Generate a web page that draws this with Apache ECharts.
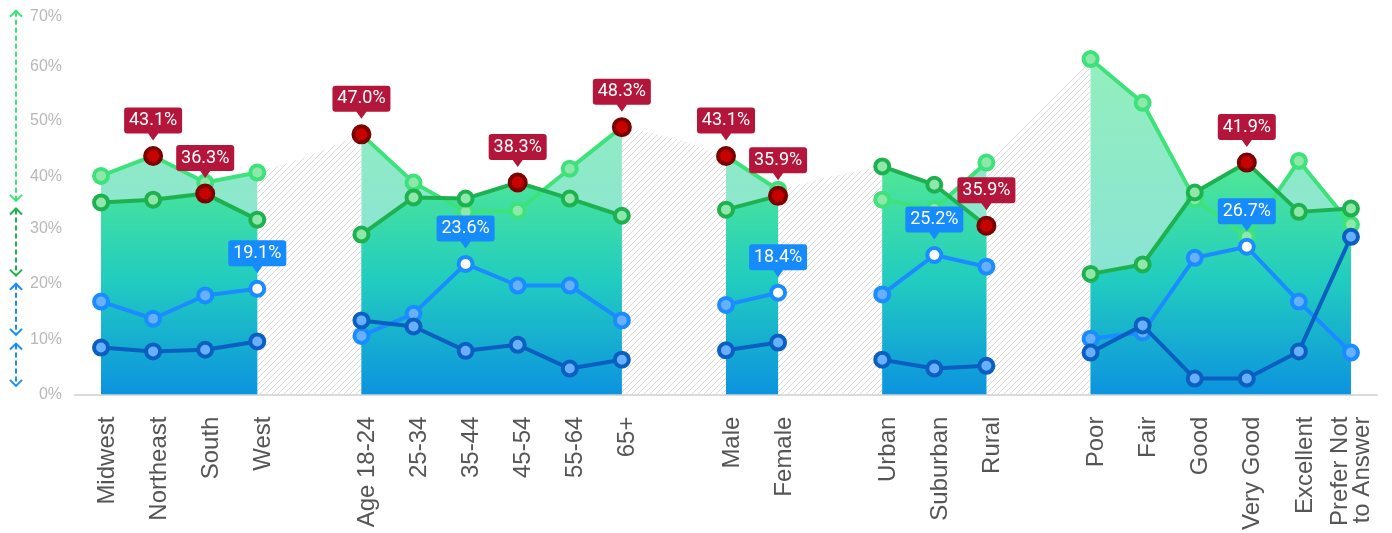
<!DOCTYPE html>
<html>
<head>
<meta charset="utf-8">
<script src="https://cdn.jsdelivr.net/npm/echarts@6/dist/echarts.min.js"></script>
<style>html,body{margin:0;padding:0;background:#fff;}#c{width:1392px;height:533px;}</style>
</head>
<body>
<div id="c"></div>
<script>
// ---- data ----
var categories = ['Midwest','Northeast','South','West','',
  'Age 18-24','25-34','35-44','45-54','55-64','65+','',
  'Male','Female','',
  'Urban','Suburban','Rural','',
  'Poor','Fair','Good','Very Good','Excellent','Prefer Not\nto Answer'];
var lightGreen = [39.5,43.1,38.3,40.1,null, 47.0,38.3,33.0,33.2,40.8,48.3,null, 43.1,37.0,null, 35.2,33.5,41.9,null, 60.6,52.7,35.3,28.5,42.2,30.7];
var darkGreen  = [34.7,35.2,36.3,31.6,null, 28.9,35.6,35.4,38.3,35.4,32.3,null, 33.4,35.9,null, 41.2,37.9,30.5,null, 21.8,23.5,36.5,41.9,33.0,33.6];
var blue       = [16.8,13.7,17.9,19.1,null, 10.6,14.6,23.6,19.7,19.7,13.4,null, 16.2,18.4,null, 18.1,25.2,23.1,null, 10.1,11.2,24.7,26.7,16.8,7.6];
var darkBlue   = [8.5,7.8,8.1,9.6,null, 13.4,12.3,7.9,9.0,4.7,6.3,null, 8.0,9.4,null, 6.3,4.7,5.2,null, 7.6,12.5,2.9,2.9,7.8,28.5];
// hatched band between groups (group edges + gap values)
var hatch      = [null,null,null,40.1,43.1, 47.0,null,null,null,null,48.3,46.4, 43.1,37.0,39.4, 41.2,null,41.9,51.3, 60.6,null,null,null,null,null];
// highlighted points
var lgHighlightIdx = [1,5,10,12];
var lgHighlightText = ['43.1%','47.0%','48.3%','43.1%'];
var dgHighlightIdx = [2,8,13,17,22];
var dgHighlightText = ['36.3%','38.3%','35.9%','35.9%','41.9%'];
var blueHighlightIdx = [3,7,13,16,22];
var blueHighlightText = ['19.1%','23.6%','18.4%','25.2%','26.7%'];
// y tick label vertical nudges (px, downward) as drawn in the reference
var yTickNudge = {70: 10, 60: 4, 50: 3, 40: 3};
// left range arrows (in %)
var arrowRanges = [[69.5,34.8],[33.8,21.3],[20.2,10.6],[9.4,1.4]];
var arrowColors = ['#3ee27b','#1eb150','#1a8cff','#1a8cff'];

// ---- styles ----
var C_LG = '#3ee27b', C_DG = '#1eb150', C_B = '#1a8cff', C_DB = '#0a5fc0';
var F_G = '#8ee8aa', F_B = '#66b0ff';

var pc = document.createElement('canvas');
pc.width = 6; pc.height = 6;
var px = pc.getContext('2d');
px.strokeStyle = '#dadada'; px.lineWidth = 1;
px.beginPath();
px.moveTo(0,6); px.lineTo(6,0);
px.moveTo(-1,1); px.lineTo(1,-1);
px.moveTo(5,7); px.lineTo(7,5);
px.stroke();

function markData(arr, idxs, hl) {
  return arr.map(function(v,i){
    if (idxs.indexOf(i) >= 0 && v != null) {
      return {value: v, symbolSize: hl === 'red' ? 16 : 14,
        itemStyle: hl === 'red' ? {color:'#c80000', borderColor:'#7d0000', borderWidth:4}
                                : {color:'#ffffff', borderColor:C_B, borderWidth:4}};
    }
    return v;
  });
}
var calloutPath = 'path://M3,0 H55 Q58,0 58,3 V23 Q58,26 55,26 H34 L29,33 L24,26 H3 Q0,26 0,23 V3 Q0,0 3,0 Z';
var mpData = [];
function addCallouts(idxs, texts, arr, color) {
  idxs.forEach(function(ix, k){
    mpData.push({coord:[ix, arr[ix]], value: texts[k], itemStyle:{color: color}});
  });
}
addCallouts(lgHighlightIdx, lgHighlightText, lightGreen, '#b3163a');
addCallouts(dgHighlightIdx, dgHighlightText, darkGreen, '#b3163a');
addCallouts(blueHighlightIdx, blueHighlightText, blue, '#168bfb');

function lineSeries(name, data, color, fill, z) {
  return {
    name: name, type: 'line', data: data, z: z,
    connectNulls: false, symbol: 'circle', symbolSize: 14, showAllSymbol: true,
    lineStyle: {color: color, width: 4},
    itemStyle: {color: fill, borderColor: color, borderWidth: 4},
    emphasis: {disabled: true}
  };
}

var yRich = {};
[0,10,20,30,40,50,60,70].forEach(function(v){
  var n = yTickNudge[v] || 0;
  yRich['t' + v] = {color: '#b8b8b8', fontSize: 16, fontFamily: 'Liberation Sans',
    padding: [2 * n, 0, 0, 0]};
});

var chart = echarts.init(document.getElementById('c'));
var option = {
  animation: false,
  grid: {left: 75, right: 15, top: 7, bottom: 138, containLabel: false},
  xAxis: {
    type: 'category', data: categories, boundaryGap: true,
    axisLine: {lineStyle: {color: '#dadada', width: 2}},
    axisTick: {show: false},
    axisLabel: {interval: 0, rotate: 90, margin: 22,
      formatter: function(v){
        if (!v) return '';
        var parts = v.split('\n');
        if (parts.length === 1) return '{f|' + v + '}';
        return parts.map(function(s){ return '{n|' + s + '}'; }).join('\n');
      },
      rich: {
        f: {color: '#555555', fontSize: 24, fontFamily: 'Liberation Sans', lineHeight: 22, padding: [12, 0, 0, 0]},
        n: {color: '#555555', fontSize: 24, fontFamily: 'Liberation Sans', lineHeight: 22}
      }}
  },
  yAxis: {
    type: 'value', min: 0, max: 70, interval: 10,
    axisLine: {show: false}, axisTick: {show: false}, splitLine: {show: false},
    axisLabel: {formatter: function(v){ return '{t' + v + '|' + v + '%}'; },
      rich: yRich, margin: 13}
  },
  series: [
    {type: 'line', data: hatch, z: 1, connectNulls: false, symbol: 'none',
      lineStyle: {width: 0}, areaStyle: {color: {image: pc, repeat: 'repeat'}, opacity: 1},
      emphasis: {disabled: true}, silent: true},
    {type: 'line', data: lightGreen, z: 2, connectNulls: false, symbol: 'none',
      lineStyle: {width: 0},
      areaStyle: {opacity: 1, color: {type: 'linear', x: 0, y: 0, x2: 0, y2: 1,
        colorStops: [{offset: 0, color: '#93efbd'}, {offset: 1, color: '#84dde2'}]}},
      emphasis: {disabled: true}, silent: true},
    {type: 'line', data: darkGreen, z: 3, connectNulls: false, symbol: 'none',
      lineStyle: {width: 0},
      areaStyle: {opacity: 1, color: {type: 'linear', x: 0, y: 0, x2: 0, y2: 1,
        colorStops: [{offset: 0, color: '#52e894'}, {offset: 0.5, color: '#22cdbf'}, {offset: 1, color: '#0c93df'}]}},
      emphasis: {disabled: true}, silent: true},
    lineSeries('lg', markData(lightGreen, lgHighlightIdx, 'red'), C_LG, F_G, 5),
    lineSeries('dg', markData(darkGreen, dgHighlightIdx, 'red'), C_DG, F_G, 6),
    lineSeries('b', markData(blue, blueHighlightIdx, 'white'), C_B, F_B, 7),
    Object.assign(lineSeries('db', darkBlue, C_DB, F_B, 8), {
      markPoint: {
        symbol: calloutPath, symbolSize: [58, 33], symbolOffset: [0, -32], symbolKeepAspect: false,
        silent: true, z: 20,
        label: {show: true, position: 'inside', offset: [0, -3.5], color: '#ffffff',
          fontSize: 18, fontFamily: 'Roboto',
          formatter: function(p){ return p.value; }},
        data: mpData
      }
    })
  ]
};
chart.setOption(option);

var g = [];
arrowRanges.forEach(function(r, i){
  var yt = chart.convertToPixel({yAxisIndex: 0}, r[0]);
  var yb = chart.convertToPixel({yAxisIndex: 0}, r[1]);
  var col = arrowColors[i];
  g.push({type: 'line', shape: {x1: 16, y1: yt + 2, x2: 16, y2: yb - 2},
    style: {stroke: col, lineWidth: 2, lineDash: [5, 3]}});
  g.push({type: 'polyline', shape: {points: [[10, yt + 7], [16, yt + 1], [22, yt + 7]]},
    style: {stroke: col, lineWidth: 2, fill: null}});
  g.push({type: 'polyline', shape: {points: [[10, yb - 7], [16, yb - 1], [22, yb - 7]]},
    style: {stroke: col, lineWidth: 2, fill: null}});
});
chart.setOption({graphic: g});
</script>
</body>
</html>
